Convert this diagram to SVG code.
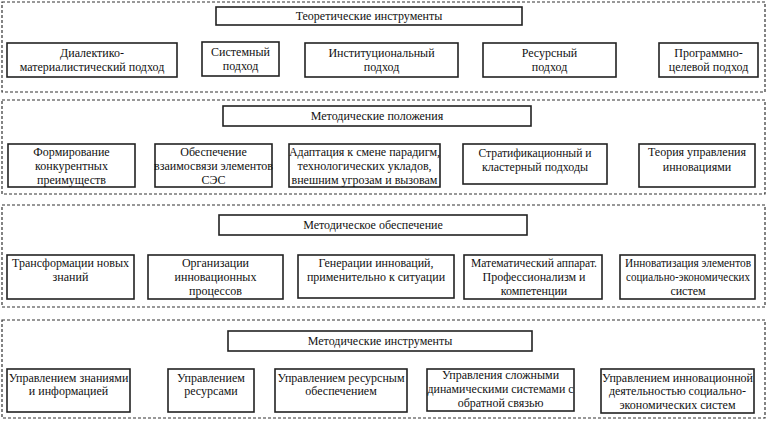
<svg xmlns="http://www.w3.org/2000/svg" width="769" height="431" viewBox="0 0 769 431">
<style>
.sec{fill:none;stroke:#333;stroke-width:1.2;stroke-dasharray:3,2}
.box{fill:#fff;stroke:#222;stroke-width:1.6}
.t{font-family:"Liberation Serif","Times New Roman",serif;font-size:12px;fill:#111;text-anchor:middle}
</style>
<rect width="769" height="431" fill="#fff"/>
<g id="sections">
<rect class="sec" x="2" y="2" width="763" height="90"/>
<rect class="sec" x="2" y="100" width="763" height="94"/>
<rect class="sec" x="2" y="205" width="763" height="102"/>
<rect class="sec" x="2" y="320" width="763" height="98"/>
</g>
<g id="connectors"></g>
<g id="title1"><rect class="box" x="216" y="7" width="306" height="18"/><text class="t" x="369" y="20">Теоретические инструменты</text></g>
<g id="n1a"><rect class="box" x="7" y="43" width="170" height="34"/><text class="t" x="92" y="57">Диалектико-</text><text class="t" x="92" y="71">материалистический подход</text></g>
<g id="n1b"><rect class="box" x="202" y="42" width="77" height="34"/><text class="t" x="240.5" y="56">Системный</text><text class="t" x="240.5" y="70">подход</text></g>
<g id="n1c"><rect class="box" x="305" y="43" width="153" height="34"/><text class="t" x="381.5" y="57">Институциональный</text><text class="t" x="381.5" y="71">подход</text></g>
<g id="n1d"><rect class="box" x="483" y="43" width="133" height="34"/><text class="t" x="549.5" y="57">Ресурсный</text><text class="t" x="549.5" y="71">подход</text></g>
<g id="n1e"><rect class="box" x="659" y="43" width="99" height="34"/><text class="t" x="708.5" y="57">Программно-</text><text class="t" x="708.5" y="71">целевой подход</text></g>

<g id="title2"><rect class="box" x="223" y="106" width="308" height="20"/><text class="t" x="377" y="120">Методические положения</text></g>
<g id="n2a"><rect class="box" x="8" y="144" width="127" height="43"/><text class="t" x="71.5" y="156">Формирование</text><text class="t" x="71.5" y="170">конкурентных</text><text class="t" x="71.5" y="184">преимуществ</text></g>
<g id="n2b"><rect class="box" x="155" y="144" width="117" height="43"/><text class="t" x="213.5" y="156">Обеспечение</text><text class="t" x="213.5" y="170">взаимосвязи элементов</text><text class="t" x="213.5" y="184">СЭС</text></g>
<g id="n2c"><rect class="box" x="289" y="144" width="151" height="43"/><text class="t" x="364.5" y="156">Адаптация к смене парадигм,</text><text class="t" x="364.5" y="170">технологических укладов,</text><text class="t" x="364.5" y="184">внешним угрозам и вызовам</text></g>
<g id="n2d"><rect class="box" x="463" y="144" width="144" height="40"/><text class="t" x="535" y="157" textLength="113" lengthAdjust="spacingAndGlyphs">Стратификационный и</text><text class="t" x="535" y="171" textLength="106" lengthAdjust="spacingAndGlyphs">кластерный подходы</text></g>
<g id="n2e"><rect class="box" x="639" y="144" width="116" height="43"/><text class="t" x="697" y="156">Теория управления</text><text class="t" x="697" y="171">инновациями</text></g>

<g id="title3"><rect class="box" x="219" y="215" width="308" height="20"/><text class="t" x="373" y="229">Методическое обеспечение</text></g>
<g id="n3a"><rect class="box" x="7" y="255" width="127" height="44"/><text class="t" x="70.5" y="267">Трансформации новых</text><text class="t" x="70.5" y="281">знаний</text></g>
<g id="n3b"><rect class="box" x="148" y="255" width="135" height="44"/><text class="t" x="215.5" y="267">Организации</text><text class="t" x="215.5" y="281">инновационных</text><text class="t" x="215.5" y="295">процессов</text></g>
<g id="n3c"><rect class="box" x="298" y="255" width="156" height="43"/><text class="t" x="376" y="267">Генерации инноваций,</text><text class="t" x="376" y="281">применительно к ситуации</text></g>
<g id="n3d"><rect class="box" x="464" y="255" width="138" height="44"/><text class="t" x="534" y="267" textLength="126" lengthAdjust="spacingAndGlyphs">Математический аппарат.</text><text class="t" x="534" y="281">Профессионализм и</text><text class="t" x="534" y="295">компетенции</text></g>
<g id="n3e"><rect class="box" x="620" y="255" width="135" height="44"/><text class="t" x="688" y="267" textLength="126" lengthAdjust="spacingAndGlyphs">Инноватизация элементов</text><text class="t" x="688" y="281" textLength="124" lengthAdjust="spacingAndGlyphs">социально-экономических</text><text class="t" x="688" y="295">систем</text></g>

<g id="title4"><rect class="box" x="228" y="331" width="304" height="20"/><text class="t" x="380" y="345">Методические инструменты</text></g>
<g id="n4a"><rect class="box" x="7" y="369" width="123" height="43"/><text class="t" x="68.5" y="382">Управлением знаниями</text><text class="t" x="68.5" y="395">и информацией</text></g>
<g id="n4b"><rect class="box" x="168" y="369" width="86" height="43"/><text class="t" x="211" y="382">Управлением</text><text class="t" x="211" y="395">ресурсами</text></g>
<g id="n4c"><rect class="box" x="275" y="369" width="132" height="43"/><text class="t" x="341" y="382">Управлением ресурсным</text><text class="t" x="341" y="395">обеспечением</text></g>
<g id="n4d"><rect class="box" x="427" y="369" width="147" height="42"/><text class="t" x="500.5" y="379">Управления сложными</text><text class="t" x="500.5" y="393" textLength="146" lengthAdjust="spacingAndGlyphs">динамическими системами с</text><text class="t" x="500.5" y="407">обратной связью</text></g>
<g id="n4e"><rect class="box" x="601" y="369" width="153" height="44"/><text class="t" x="677.5" y="382">Управлением инновационной</text><text class="t" x="677.5" y="395">деятельностью социально-</text><text class="t" x="677.5" y="409">экономических систем</text></g>
</svg>
